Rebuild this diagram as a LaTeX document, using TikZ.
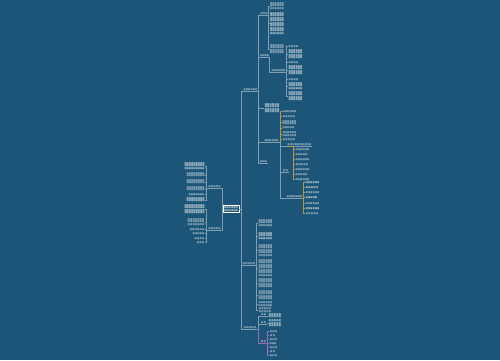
\documentclass[tikz,border=0pt]{standalone}
\usepackage{fontspec}
\newfontfamily\cjk{Noto Sans CJK SC}
\definecolor{bgc}{HTML}{1C5577}
\definecolor{lnc}{HTML}{7F9DB3}
\definecolor{txc}{HTML}{D3DEE5}
\definecolor{ylc}{HTML}{B8983E}
\definecolor{puc}{HTML}{9A6BB8}
\newcommand\lns[1]{%
  \ifnum#1>0
    \leavevmode\xleaders\hbox{圖}\hfill\kern0pt\par
    \expandafter\lns\expandafter{\the\numexpr#1-1\relax}%
  \fi}
\tikzset{
  conn/.style={draw=lnc, line width=0.35pt},
  yconn/.style={draw=ylc, line width=0.45pt},
  pconn/.style={draw=puc, line width=0.45pt},
  txt/.style={inner sep=0.3pt, text=txc, font=\cjk\fontsize{2.2}{2.5}\selectfont\parindent0pt},
  bright/.style={text=white},
  rootbox/.style={draw=white, line width=0.5pt, fill=bgc, inner sep=1.2pt, text=white,
    text width=14pt, font=\cjk\fontsize{2.2}{2.6}\selectfont\parindent0pt},
}
\newcommand\blk[6][]{\node[txt,anchor=north west,text width=#5pt,#1] (#2) at (#3,#4) {\lns{#6}};}
\newcommand\blkR[6][]{\node[txt,anchor=north east,text width=#5pt,#1] (#2) at (#3,#4) {\lns{#6}};}
\newcommand\lab[6][conn]{\node[txt,anchor=south west,text width=#5pt] (#2) at (#3,#4) {\lns{#6}}; \draw[#1] (#2.south west) -- (#2.south east);}
\newcommand\cx[4][conn]{\draw[#1] (#2) -- (#3,0 |- #2) |- (#4);}
\begin{document}
\begin{tikzpicture}[x=1pt,y=-1pt]
\fill[bgc] (0,0) rectangle (500,360);
\useasboundingbox (0,0) rectangle (500,360);
% root
\node[rootbox] (root) at (231,209) {\lns{2}};
% right main branches
\lab{ra}{243}{91}{14}{1}
\lab{rc}{242}{265}{13}{1}
\lab{rd}{243}{329}{13}{1}
\cx{root.east}{241}{ra.south west}
\cx{root.east}{241}{rc.south west}
\cx{root.east}{241}{rd.south west}
% RA children
\lab{a1}{259.5}{15}{8}{1}
\lab{a2}{259.5}{57}{9}{1}
\blk[bright]{a3}{264}{103}{15}{4}
\lab{a4}{264}{142}{14}{1}
\lab{a5}{259.5}{163}{7}{1}
\cx{ra.south east}{258.5}{a1.south west}
\cx{ra.south east}{258.5}{a2.south west}
\cx{ra.south east}{258.5}{a3.west}
\cx{ra.south east}{258.5}{a4.south west}
\cx{ra.south east}{258.5}{a5.south west}
% a1
\blk{a1b1}{269.5}{2}{14}{3}
\blk[bright]{a1b2}{269.5}{12}{14}{9}
\blk{a1b3}{269.5}{44}{14}{4}
\cx{a1.south east}{268.5}{a1b1.west}
\cx{a1.south east}{268.5}{a1b2.west}
\cx{a1.south east}{268.5}{a1b3.west}
% a2
\lab{a2a}{271}{72}{14}{1}
\cx{a2.south east}{269.5}{a2a.south west}
\blk{a2b1}{288}{45}{10}{1}
\blk[bright]{a2b2}{288}{49}{14}{4}
\blk{a2b3}{288}{61}{10}{1}
\blk[bright]{a2b4}{288}{65}{14}{4}
\blk{a2b5}{288}{78}{10}{1}
\blk[bright]{a2b6}{288}{82}{14}{3}
\blk[bright]{a2b7}{288}{91}{14}{4}
\foreach \n in {a2b1,a2b2,a2b3,a2b4,a2b5,a2b6,a2b7}{\cx{a2a.south east}{286.5}{\n.west}}
% a4 (yellow)
\blk{a4u1}{282}{110}{14}{1}
\blk{a4u2}{282}{115}{13}{1}
\blk{a4u3}{282}{120}{14}{2}
\blk{a4u4}{282}{126.5}{12}{1}
\blk{a4u5}{282}{131.5}{14}{2}
\blk{a4u6}{282}{138}{13}{1}
\foreach \n in {a4u1,a4u2,a4u3,a4u4,a4u5,a4u6}{\cx[yconn]{a4.south east}{280}{\n.west}}
\lab{a4b}{287}{146}{24}{1}
\lab{a4c}{282}{172}{6}{1}
\lab{a4d}{286}{198}{16}{1}
\cx{a4.south east}{280}{a4b.south west}
\cx{a4.south east}{280}{a4c.south west}
\cx{a4.south east}{280}{a4d.south west}
\blk{a4b1}{295}{148}{14}{1}
\blk{a4b2}{295}{153}{12}{1}
\blk{a4b3}{295}{158}{14}{1}
\blk{a4b4}{295}{163}{13}{1}
\blk{a4b5}{295}{168}{14}{1}
\blk{a4b6}{295}{173}{12}{1}
\blk{a4b7}{295}{178}{14}{1}
\foreach \n in {a4b1,a4b2,a4b3,a4b4,a4b5,a4b6,a4b7}{\cx[yconn]{a4b.south west}{293}{\n.west}}
\blk[bright]{a4d1}{305}{181}{14}{1}
\blk[bright]{a4d2}{305}{186}{13}{1}
\blk{a4d3}{305}{191}{14}{1}
\blk[bright]{a4d4}{305}{196}{12}{1}
\blk{a4d5}{305}{202}{14}{1}
\blk[bright]{a4d6}{305}{207}{14}{1}
\blk{a4d7}{305}{212}{13}{1}
\foreach \n in {a4d1,a4d2,a4d3,a4d4,a4d5,a4d6,a4d7}{\cx[yconn]{a4d.south east}{303.5}{\n.west}}
% RC children
\blk{c1}{258}{219}{14}{3}
\blk[bright]{c2}{258}{232}{14}{3}
\blk{c3}{258}{244}{14}{5}
\blk{c4}{258}{259}{14}{7}
\blk{c5}{258}{278}{14}{4}
\blk{c6}{258}{290}{14}{4}
\blk{c7}{258}{301.5}{14}{2}
\blk{c8}{258}{307.5}{13}{2}
\foreach \n in {c1,c2,c3,c4,c5,c6,c7,c8}{\cx{rc.south east}{256.5}{\n.west}}
% RD children
\lab{d1}{260}{316}{6}{1}
\lab{d2}{260}{324}{6}{1}
\lab[pconn]{d3}{260}{343}{6}{1}
\cx{rd.south east}{258}{d1.south west}
\cx{rd.south east}{258}{d2.south west}
\cx[pconn]{rd.south east}{258}{d3.south west}
\blk[bright]{d1b}{268}{313}{13}{2}
\blk[bright]{d2b}{268}{319.5}{13}{3}
\cx{d1.south east}{267}{d1b.west}
\cx{d2.south east}{267}{d2b.west}
\blk{dp1}{269}{330}{8}{1}
\blk{dp2}{269}{334}{6}{1}
\blk{dp3}{269}{338}{8}{1}
\blk{dp4}{269}{342}{7}{1}
\blk{dp5}{269}{346}{8}{1}
\blk{dp6}{269}{350}{6}{1}
\blk{dp7}{269}{354}{8}{1}
\foreach \n in {dp1,dp2,dp3,dp4,dp5,dp6,dp7}{\cx[pconn]{d3.south east}{267.5}{\n.west}}
% left side
\lab{l1}{207.5}{188}{13}{1}
\lab{l2}{207.5}{230}{13}{1}
\cx{root.west}{222}{l1.south east}
\cx{root.west}{222}{l2.south east}
\blkR[bright]{l1c1}{205}{162}{20}{3}
\blkR{l1c2}{205}{172}{18}{2}
\blkR{l1c3}{205}{179}{18}{2}
\blkR{l1c4}{205}{186}{18}{2}
\blkR{l1c5}{205}{193}{16}{1}
\blkR[bright]{l1c6}{205}{197}{18}{2}
\foreach \n in {l1c1,l1c2,l1c3,l1c4,l1c5,l1c6}{\cx{l1.south west}{206.5}{\n.east}}
\blkR[bright]{l2c1}{205}{204}{20}{4}
\blkR{l2c2}{205}{218}{17}{3}
\blkR{l2c3}{205}{228}{15}{1}
\blkR{l2c4}{205}{232}{12}{1}
\blkR{l2c5}{205}{237}{10}{1}
\blkR{l2c6}{205}{241}{8}{1}
\foreach \n in {l2c1,l2c2,l2c3,l2c4,l2c5,l2c6}{\cx{l2.south west}{206.5}{\n.east}}
\end{tikzpicture}
\end{document}
